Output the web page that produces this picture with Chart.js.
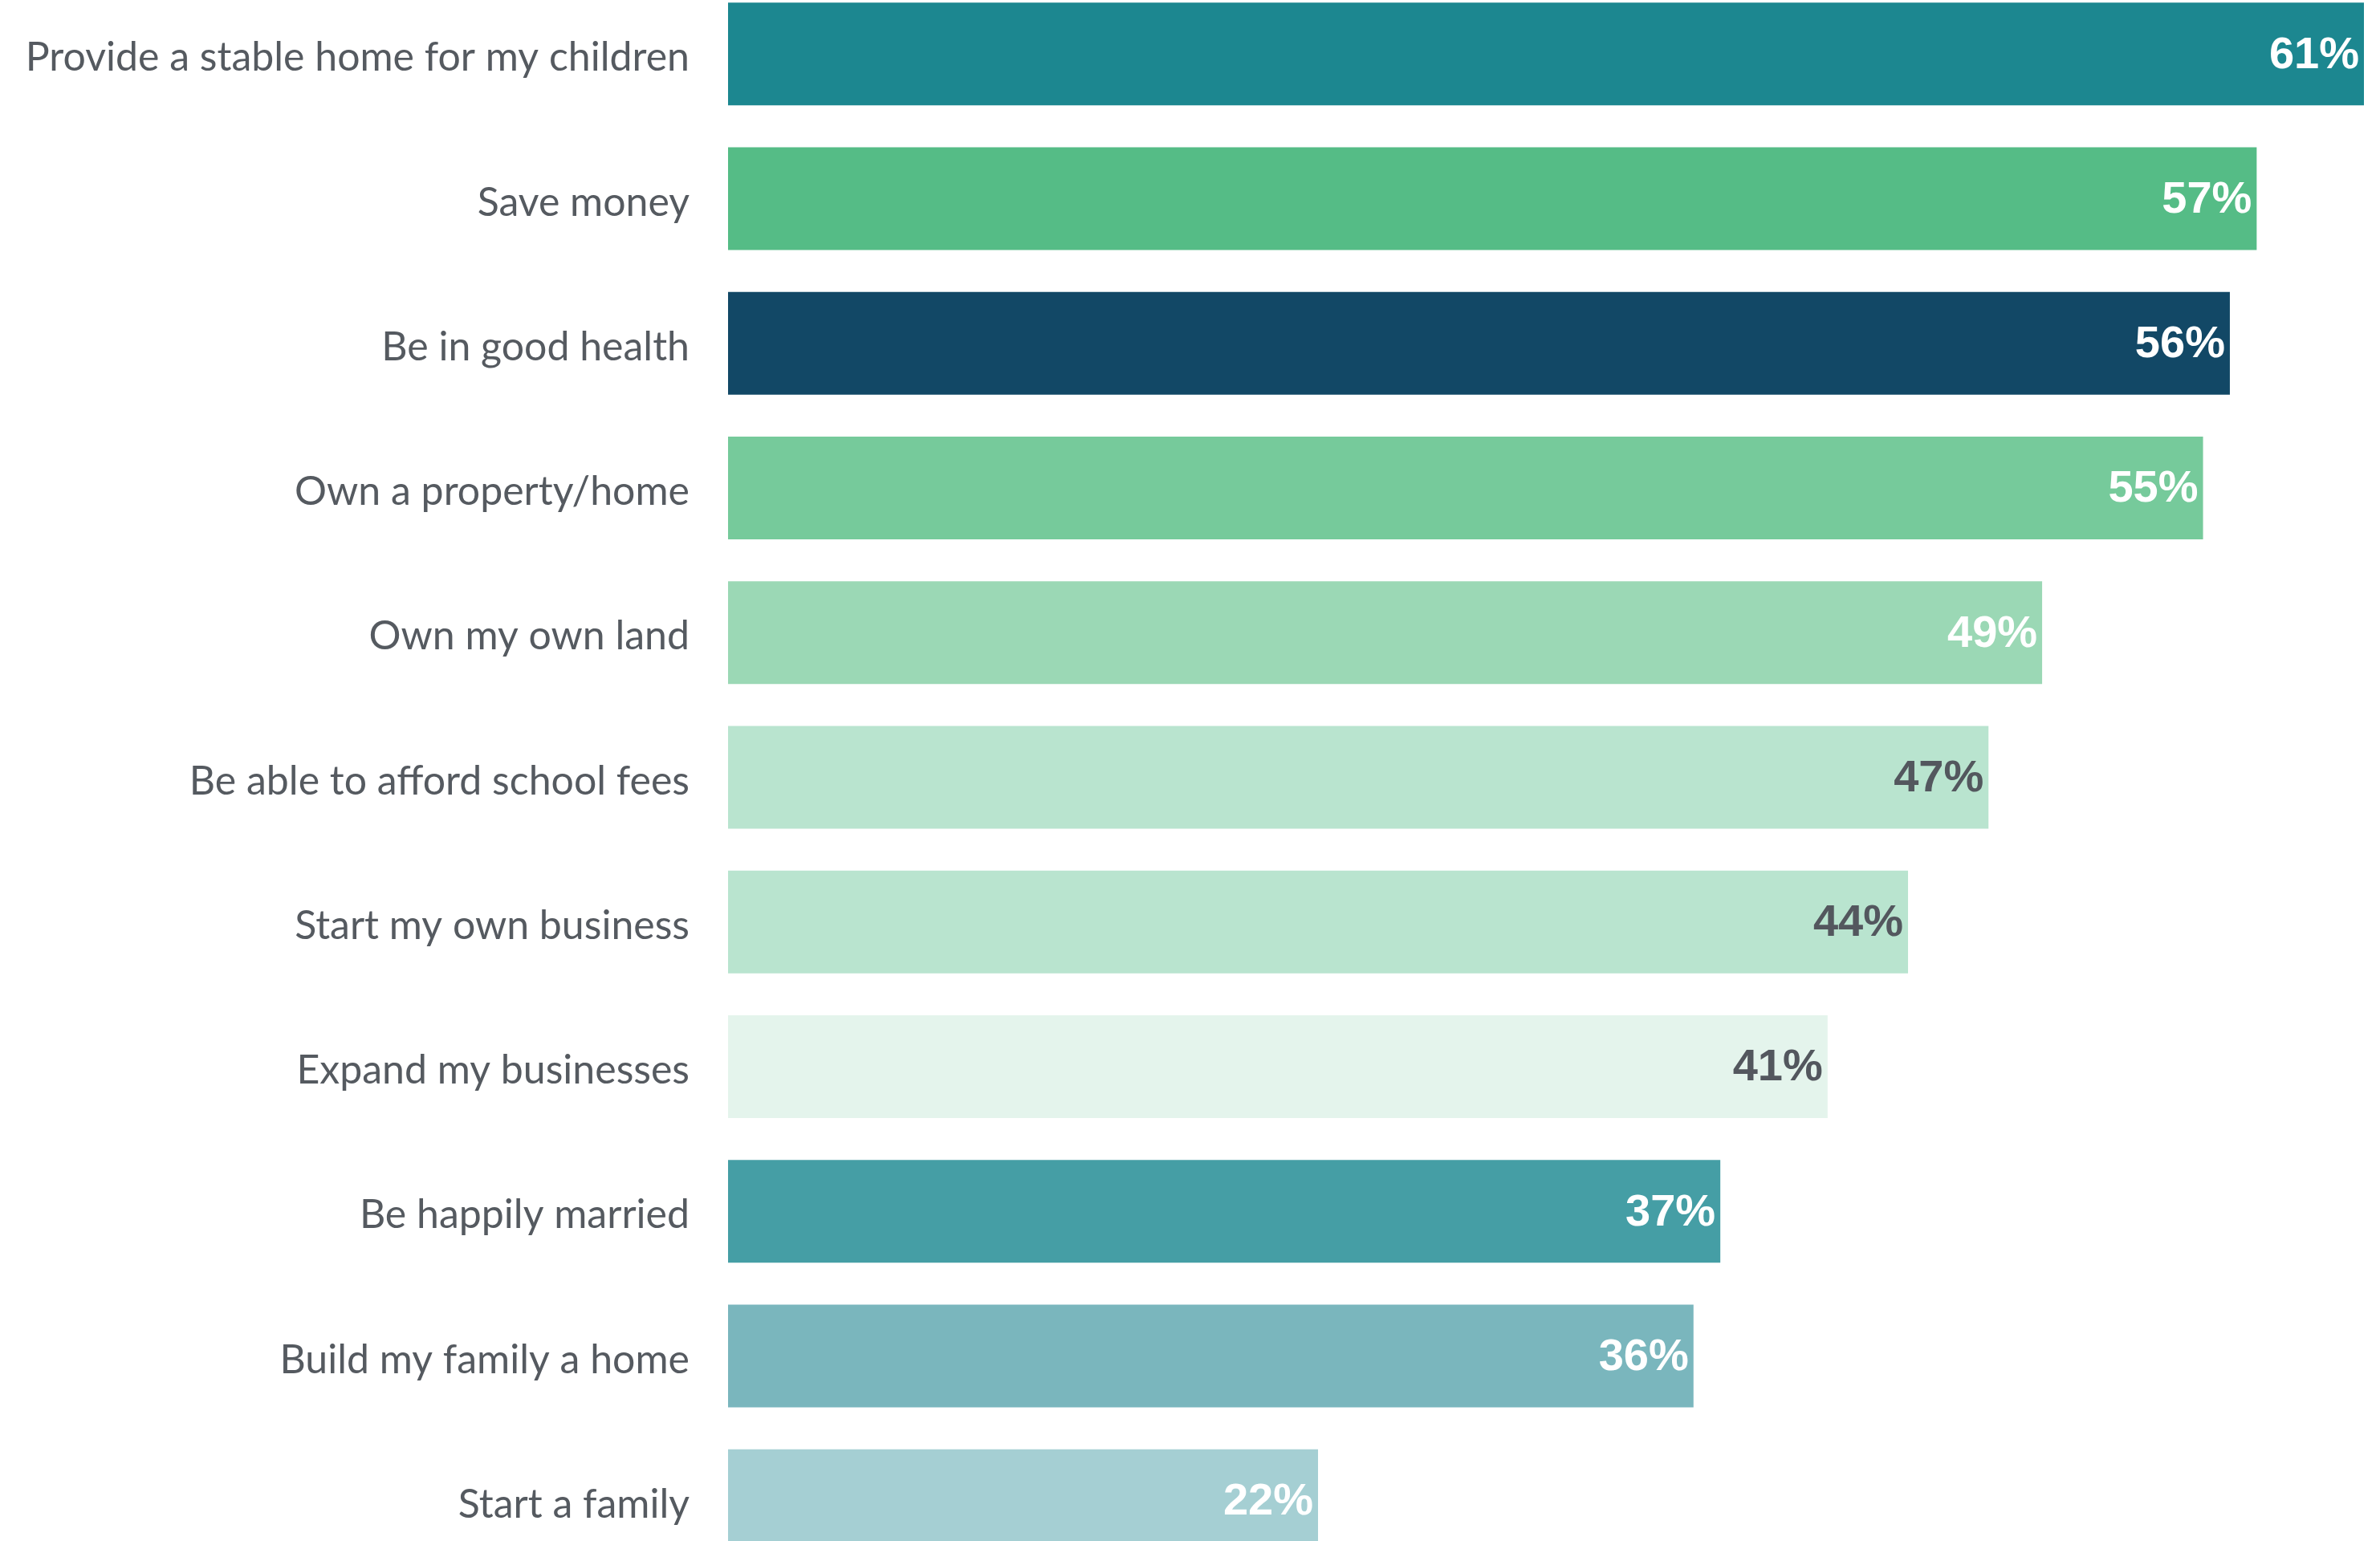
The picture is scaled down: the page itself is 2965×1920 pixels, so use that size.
<!DOCTYPE html>
<html>
<head>
<meta charset="utf-8">
<script src="https://cdn.jsdelivr.net/npm/chart.js@4.4.1/dist/chart.umd.min.js"></script>
<style>
  html, body { margin: 0; padding: 0; background: #ffffff; overflow: hidden; }
  #wrap { position: absolute; left: 0; top: -23px; width: 2965px; height: 1983px; }
</style>
</head>
<body>
<div id="wrap"><canvas id="grafica"></canvas></div>
<script>
// Datos de la gráfica
const categorias = [
  'Provide a stable home for my children',
  'Save money',
  'Be in good health',
  'Own a property/home',
  'Own my own land',
  'Be able to afford school fees',
  'Start my own business',
  'Expand my businesses',
  'Be happily married',
  'Build my family a home',
  'Start a family'
];
const porcentajes = [61, 57, 56, 55, 49, 47, 44, 41, 37, 36, 22];
const coloresBarra = [
  '#1c8790', '#55bc86', '#124866', '#76ca9b', '#9bd8b5', '#b9e4cf',
  '#b9e4cf', '#e4f4ec', '#459ea5', '#7ab6bd', '#a5cfd3'
];
const coloresTexto = [
  '#ffffff', '#ffffff', '#ffffff', '#ffffff', '#ffffff', '#53575e',
  '#53575e', '#53575e', '#ffffff', '#ffffff', '#ffffff'
];

// Etiquetas de porcentaje dentro del extremo de cada barra
const etiquetasValor = {
  id: 'etiquetasValor',
  afterDatasetsDraw(chart) {
    const ctx = chart.ctx;
    const meta = chart.getDatasetMeta(0);
    ctx.save();
    ctx.font = 'bold 56px "Liberation Sans", Arial, sans-serif';
    ctx.textAlign = 'right';
    ctx.textBaseline = 'middle';
    meta.data.forEach((bar, i) => {
      ctx.fillStyle = coloresTexto[i];
      ctx.fillText(porcentajes[i] + '%', bar.x - 6, bar.y + 2);
    });
    ctx.restore();
  }
};

const ctx = document.getElementById('grafica').getContext('2d');
new Chart(ctx, {
  type: 'bar',
  data: {
    labels: categorias,
    datasets: [{
      data: porcentajes,
      backgroundColor: coloresBarra,
      borderWidth: 0,
      barPercentage: 0.71,
      categoryPercentage: 1
    }]
  },
  options: {
    indexAxis: 'y',
    responsive: true,
    maintainAspectRatio: false,
    animation: false,
    layout: { padding: { left: 0, right: 20, top: 0, bottom: 0 } },
    plugins: {
      legend: { display: false },
      tooltip: { enabled: false }
    },
    scales: {
      x: {
        display: false,
        min: 0,
        max: 61
      },
      y: {
        afterFit(scale) {
          // ancho fijo del eje y sin relleno vertical extra
          scale.width = 907;
          scale.paddingTop = 0;
          scale.paddingBottom = 0;
        },
        border: { display: false },
        grid: { display: false, drawTicks: false },
        ticks: {
          color: '#555a60',
          padding: 48,
          labelOffset: 5,
          font: { family: 'Lato, sans-serif', size: 50 }
        }
      }
    }
  },
  plugins: [etiquetasValor]
});
</script>
</body>
</html>
